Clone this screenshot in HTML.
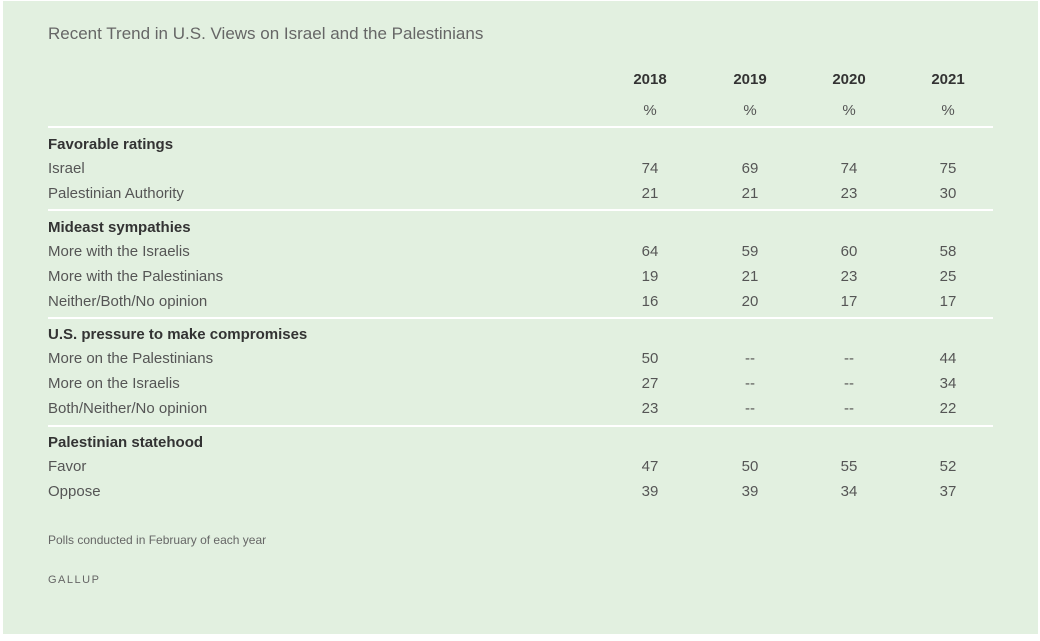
<!DOCTYPE html>
<html><head><style>
body{margin:0;width:1040px;height:641px;background:#fff;font-family:"Liberation Sans",sans-serif;position:relative;overflow:hidden}
#bg{position:absolute;left:3px;top:1px;width:1035px;height:633px;background:#e2f0e0}
.t{position:absolute;white-space:nowrap;line-height:20px;color:#555;font-size:15px}
.h{font-weight:bold;color:#333}
.c{width:80px;text-align:center}
.ln{position:absolute;left:48px;width:945px;height:2px;background:#fff}
</style></head><body>
<div id="bg"></div>
<div class="t" style="left:48px;top:24px;font-size:17px;color:#666">Recent Trend in U.S. Views on Israel and the Palestinians</div>
<script>
var xs=[650,750,849,948];
function txt(x,y,s,cls,center){var d=document.createElement('div');d.className='t '+(cls||'')+(center?' c':'');d.style.top=(y-8)+'px';d.style.left=(center?x-40:x)+'px';d.textContent=s;document.body.appendChild(d);}
function ln(y){var d=document.createElement('div');d.className='ln';d.style.top=(y-1)+'px';document.body.appendChild(d);}
['2018','2019','2020','2021'].forEach(function(s,i){txt(xs[i],78,s,'h',true);txt(xs[i],109,'%','',true);});
var data=[
[127,143,'Favorable ratings',[['Israel',74,69,74,75],['Palestinian Authority',21,21,23,30]]],
[210,226,'Mideast sympathies',[['More with the Israelis',64,59,60,58],['More with the Palestinians',19,21,23,25],['Neither/Both/No opinion',16,20,17,17]]],
[318,333,'U.S. pressure to make compromises',[['More on the Palestinians',50,'--','--',44],['More on the Israelis',27,'--','--',34],['Both/Neither/No opinion',23,'--','--',22]]],
[426,441,'Palestinian statehood',[['Favor',47,50,55,52],['Oppose',39,39,34,37]]]];
data.forEach(function(s){ln(s[0]);txt(48,s[1],s[2],'h');s[3].forEach(function(r,j){var y=s[1]+24+25*j;txt(48,y,r[0]);for(var k=0;k<4;k++)txt(xs[k],y,String(r[k+1]),'',true);});});
</script>
<div class="t" style="left:48px;top:530px;font-size:12px;color:#666">Polls conducted in February of each year</div>
<div class="t" style="left:48px;top:570px;font-size:11px;color:#666;letter-spacing:1.5px">GALLUP</div>
</body></html>
